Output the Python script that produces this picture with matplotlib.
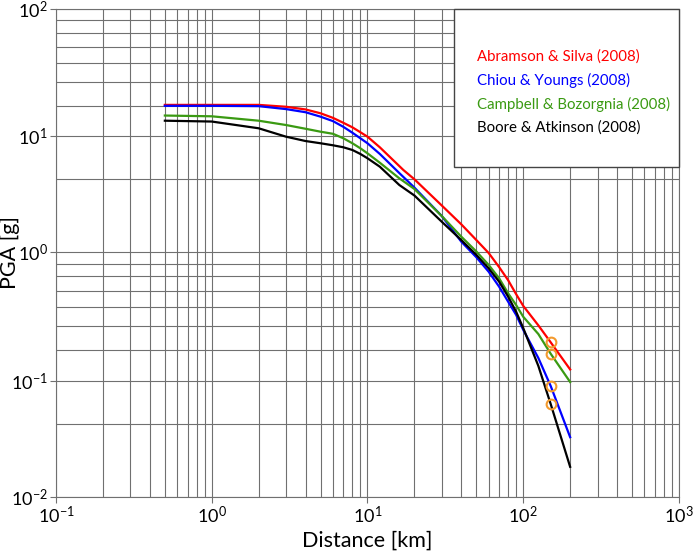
import numpy as np
import matplotlib
matplotlib.use('Agg')
import matplotlib.pyplot as plt
from matplotlib.patches import Rectangle
from matplotlib.ticker import FixedLocator, FuncFormatter, LogLocator, NullFormatter

plt.rcParams['font.family'] = ['Lato', 'DejaVu Sans']
plt.rcParams['mathtext.default'] = 'regular'

# distance [km]
dist = [0.5, 1, 2, 3, 4, 5, 6, 7, 8, 9, 10, 12, 16, 20, 30, 40, 50, 60, 70, 80, 90, 100, 125, 150, 200]
dist_as = [0.5, 1, 2, 3, 4, 5, 6, 7, 8, 9, 10, 12, 17, 20, 30, 40, 50, 60, 70, 80, 90, 100, 125, 150, 200]

# PGA [g]
pga_as08 = [17.7, 17.7, 17.7, 17.1, 16.3, 15.2, 14.0, 12.8, 11.8, 10.8, 9.96, 8.07, 5.14, 4.28, 2.54,
            1.75, 1.28, 0.99, 0.77, 0.608, 0.474, 0.384, 0.271, 0.200, 0.123]
pga_cy08 = [17.4, 17.4, 17.3, 16.4, 15.5, 14.3, 13.2, 11.9, 10.7, 9.65, 8.74, 7.07, 4.84, 3.63, 2.06,
            1.24, 0.918, 0.708, 0.542, 0.414, 0.327, 0.250, 0.151, 0.0906, 0.0328]
pga_cb08 = [14.6, 14.4, 13.3, 12.3, 11.5, 10.9, 10.5, 9.65, 8.74, 7.91, 7.16, 5.94, 4.36, 3.53, 2.06,
            1.37, 1.02, 0.80, 0.630, 0.481, 0.390, 0.316, 0.232, 0.163, 0.098]
pga_ba08 = [13.3, 13.1, 11.6, 9.96, 9.14, 8.74, 8.40, 8.07, 7.65, 7.07, 6.49, 5.49, 3.82, 3.10, 1.84,
            1.28, 0.957, 0.752, 0.593, 0.453, 0.346, 0.258, 0.131, 0.0634, 0.0182]

labels = ['Abramson & Silva (2008)', 'Chiou & Youngs (2008)',
          'Campbell & Bozorgnia (2008)', 'Boore & Atkinson (2008)']
colors = ['#ff0000', '#0000ff', '#3a9a12', '#000000']
mark_dist = 150  # circled points

# the y axis of the original is not evenly spaced per decade
y_logs = [-6, -2, -1, 0, 1, 2, 6]
y_pos = [-464, 0, 116, 244.5, 360.5, 488, 998]


def fwd(v):
    with np.errstate(divide='ignore', invalid='ignore'):
        lv = np.log10(np.asarray(v, dtype=float))
    return np.interp(lv, y_logs, y_pos)


def inv(p):
    return 10 ** np.interp(np.asarray(p, dtype=float), y_pos, y_logs)


long_frac = [0.238, 0.427, 0.574, 0.701, 0.814, 0.911]
y_minor = [10 ** (d + f) for d in (-1, 1) for f in long_frac] + [10 ** (d + 0.633) for d in (-2, 0)]

gcol = '#707070'
fig = plt.figure(figsize=(6.99, 5.55), dpi=100)
ax = fig.add_axes([0.0801, 0.1045, 0.8913, 0.8793])

series = [(dist_as, pga_as08), (dist, pga_cy08), (dist, pga_cb08), (dist, pga_ba08)]
for (d, vals), col in zip(series, colors):
    ax.plot(d, vals, color=col, lw=1.6, zorder=3, solid_joinstyle='round')
    i = d.index(mark_dist)
    ax.plot(d[i], vals[i], 'o', mfc='none', mec='#f39a2e', ms=7, mew=1.5, zorder=4)

ax.set_xscale('log')
ax.set_yscale('function', functions=(fwd, inv))
ax.set_xlim(0.1, 1000)
ax.set_ylim(0.01, 100)

ax.xaxis.set_minor_locator(LogLocator(base=10, subs=range(2, 10), numticks=50))
ax.xaxis.set_minor_formatter(NullFormatter())
ax.yaxis.set_major_locator(FixedLocator([0.01, 0.1, 1, 10, 100]))
ax.yaxis.set_major_formatter(FuncFormatter(lambda v, p: r'$10^{%d}$' % round(np.log10(v))))
ax.yaxis.set_minor_locator(FixedLocator(y_minor))
ax.yaxis.set_minor_formatter(NullFormatter())

ax.grid(which='both', color=gcol, lw=0.8)
ax.tick_params(which='major', length=4, color=gcol, labelsize=13, pad=2)
ax.tick_params(which='minor', length=0)
for s in ax.spines.values():
    s.set_color(gcol)
    s.set_linewidth(0.8)

ax.set_xlabel('Distance [km]', fontsize=15.5, labelpad=3)
ax.set_ylabel('PGA [g]', fontsize=15.5)
ax.yaxis.set_label_coords(-0.058, 0.5)

# legend box
ax.add_patch(Rectangle((0.639, 0.676), 0.361, 0.324, transform=ax.transAxes,
                       facecolor='white', edgecolor='#444444', lw=1, zorder=5, clip_on=False))
for k, (lab, col) in enumerate(zip(labels, colors)):
    ax.text(0.676, 0.9016 - k * 0.0485, lab, color=col, fontsize=10.8, va='center', ha='left',
            transform=ax.transAxes, zorder=6)

fig.savefig('out.png', dpi=100)
